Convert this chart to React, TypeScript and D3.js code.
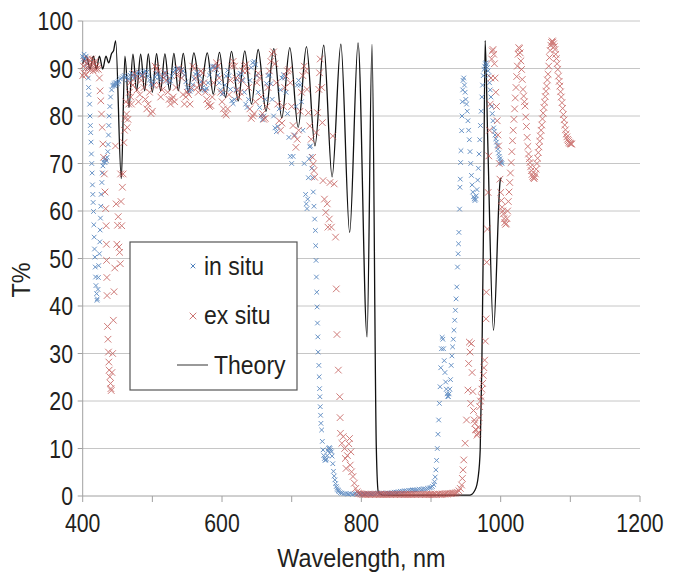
import React from "react";
import * as d3 from "d3";

type Pt = [number, number];

const theory: Pt[] = [
  [400, 91], [405.5, 92.6], [410.5, 89.9], [415.3, 92.6], [419.6, 89.9], [424, 92.6], [428.7, 89.9], [433.4, 92.6],
  [437.3, 91.2], [441.6, 93.2], [444.4, 93.8], [447.3, 95.8], [455.4, 66.8], [460.6, 92.6], [466.4, 81.8], [472.1, 93],
  [477.4, 85.3], [483.2, 93], [488.9, 85.3], [494.2, 93.1], [499.9, 85], [506.1, 93.1], [511.8, 85.3], [518, 93.1],
  [524.7, 85.3], [530.9, 93.2], [537.2, 85.3], [544.4, 93.2], [551.5, 85], [559.6, 93.3], [569.2, 85.3], [578.8, 93.3],
  [587.4, 84.6], [596.4, 93.4], [605, 83.9], [613.6, 93.6], [623.2, 83.2], [632.7, 93.7], [642.3, 82.5], [651.9, 94],
  [663.1, 81], [674.3, 94.2], [685.8, 79.6], [697.3, 94.4], [709.3, 77.6], [721.2, 94.6], [733.4, 73.7], [746, 94.9],
  [758, 67.2], [770.6, 95.1], [783.2, 55.5], [795.3, 95.4], [808.2, 33.5], [815.3, 95.1], [821.5, 10], [824.4, 0.8],
  [830, 0.2], [956, 0.2], [963.4, 1.3], [967.7, 4], [970.6, 9.7], [973, 28], [975.3, 56], [977.7, 95.9], [981.4, 75],
  [989.7, 34.9], [999.3, 66.4], [1000.7, 67],
];

const inSitu: Pt[] = [
  [400, 92.5], [401, 92], [402, 93], [403, 92.2], [404, 91.8], [405, 92.6], [406, 91], [407, 90], [408, 88], [408.5, 86],
  [409, 84.5], [410, 82.5], [410.5, 80], [411, 78], [411.5, 76.5], [412, 74.5], [412.5, 72], [413, 70], [413.5, 68],
  [414, 65.5], [414.5, 63.5], [415, 61.8], [415.5, 59.9], [416, 57.1], [416.5, 54.5], [417, 52], [417.5, 50.3], [418, 48.2],
  [418.5, 46.1], [419, 44.3], [420, 42.6], [420.5, 41.2], [421, 41.5], [422, 43.5], [422.5, 46], [423, 48.5], [424, 51],
  [424.5, 53.5], [425, 56], [425.5, 58.5], [426, 61], [426.5, 63.5], [427.5, 66], [428, 68], [429, 69.5], [430, 70.3],
  [431, 70.8], [432, 70.2], [433, 71], [434, 70.6], [435, 71.3], [436, 72.5], [436.5, 74], [437, 76], [437.5, 78], [438, 80],
  [439, 82], [440, 84], [441.5, 85.5], [443, 86.3], [444, 86.5], [445, 86.8], [446, 86.4], [447, 87], [448, 86.6], [449, 87],
  [450, 86.8], [451, 87.2], [452, 87.4], [454, 87.8], [456, 88], [458, 88.3], [460, 88.5], [462, 88.2], [464, 87.6],
  [466, 87.8], [468, 88.6], [470, 89], [472, 88.6], [474, 88], [476, 88.4], [478, 89], [480, 89.3], [482, 89], [484, 88.4],
  [486, 88.7], [488, 89.2], [490, 89.5], [492, 89.2], [494, 88.4], [496, 87.6], [498, 86.8], [500, 86.5], [502, 87.2],
  [504, 88.2], [506, 89], [508, 88.9], [510, 88.2], [512, 87.5], [514, 87.8], [516, 88.6], [518, 89.2], [520, 88.5],
  [522, 87.4], [524, 87], [526, 87.4], [528, 88.4], [530, 89.2], [532, 89.6], [534, 89.9], [536, 90], [538, 89.8],
  [540, 89.5], [542, 89.8], [544, 89.5], [546, 88.6], [548, 87.2], [550, 86], [552, 85.3], [554, 85.2], [556, 85.6],
  [558, 86.6], [560, 87.8], [562, 88.8], [564, 89.2], [566, 89], [568, 88.4], [570, 87.2], [572, 86], [574, 85.5],
  [576, 85.4], [578, 85.8], [580, 87], [582, 88.6], [584, 89.8], [586, 90.4], [588, 90.5], [590, 90.4], [592, 89.8],
  [594, 88.6], [596, 87], [598, 85.5], [600, 84.6], [602, 84.8], [604, 86.5], [606, 88.4], [608, 89.6], [610, 88.5],
  [612, 85.6], [614, 83.2], [616, 82.6], [618, 83.5], [620, 85.5], [622, 87.6], [624, 88.6], [626, 89], [628, 88.8],
  [630, 87.5], [632, 85], [634, 82.5], [636, 81.8], [638, 83.5], [640, 87.5], [642, 90.2], [644, 91.2], [646, 91.5],
  [648, 90.8], [650, 88.5], [652, 85], [654, 81.8], [656, 80], [658, 79.2], [660, 80], [662, 83.5], [664, 86.8],
  [666, 88.5], [668, 88.6], [670, 86.8], [672, 83.5], [674, 80], [676, 77.5], [678, 76.7], [680, 77.8], [682, 81.5],
  [684, 85.5], [686, 88], [688, 88.7], [690, 88], [692, 85], [694, 80.5], [696, 75.5], [698, 71.5], [700, 70], [702, 71.5],
  [704, 76], [706, 82], [708, 86.5], [710, 87.5], [712, 86.5], [714, 83], [716, 77], [718, 70], [720, 63.5], [721, 61.5],
  [722, 60.5], [723, 62.5], [724, 67], [725, 71], [726, 73.5], [727, 73.7], [728, 71.5], [729, 69], [730, 67], [731, 64],
  [732, 61], [733, 58.3], [734, 55.9], [734.5, 52.7], [735, 49.6], [735.5, 46.1], [736, 42.9], [736.5, 39.8], [737, 36.4],
  [737.5, 33.5], [738, 30.3], [739, 27.5], [739.5, 25.1], [740, 22.6], [740.5, 20.9], [741, 18.8], [741.5, 17], [742, 15.3],
  [743, 13.9], [744, 11.5], [745, 9.7], [746, 8.5], [747, 7.9], [748, 7.5], [749, 7.6], [750, 7.8], [751, 8.5], [752, 9.5],
  [753, 10], [754, 10.2], [755, 10], [756, 9.6], [757, 9.3], [758, 8.4], [759, 6.8], [760, 5.2], [761, 4.2], [762, 3.4],
  [763, 2.6], [764, 2], [765, 1.6], [766, 1.3], [767, 1.1], [768, 0.9], [770, 0.7], [772, 0.6], [775, 0.5], [778, 0.5],
  [781, 0.4], [784, 0.5], [787, 0.4], [790, 0.5], [793, 0.4], [796, 0.5], [799, 0.4], [802, 0.5], [805, 0.4], [808, 0.5],
  [811, 0.5], [814, 0.4], [817, 0.5], [820, 0.5], [823, 0.6], [826, 0.5], [829, 0.6], [832, 0.5], [835, 0.6], [838, 0.6],
  [841, 0.6], [844, 0.7], [847, 0.8], [850, 0.8], [853, 0.9], [856, 1], [859, 1], [862, 1.1], [865, 1.1], [868, 1.2],
  [871, 1.2], [874, 1.3], [877, 1.3], [880, 1.3], [883, 1.4], [886, 1.4], [889, 1.5], [892, 1.5], [895, 1.6], [898, 1.7],
  [900, 1.8], [902, 2], [904, 2.4], [905, 3], [906, 4], [907, 5.5], [908, 7.5], [909, 10], [910, 13], [911, 16], [912, 19.5],
  [913, 23], [914, 27], [915, 31], [916, 33.4], [917, 33], [918, 31], [919, 28.5], [920, 26], [921, 24], [922, 22.5],
  [923, 21.5], [924, 21], [925, 20.9], [926, 21.5], [927, 22.5], [928, 24.5], [929, 27.5], [930, 29.5], [931, 31.4],
  [932, 33], [933, 34.9], [934, 37], [935, 39.1], [936, 41.5], [937, 44], [938, 48.2], [939, 51], [939.5, 53.1], [940, 55.5],
  [941, 60.4], [941.5, 65], [942, 66.7], [942.5, 70.2], [943, 72.7], [944, 76.9], [944.5, 80], [945, 83], [945.5, 85.5],
  [946, 87.5], [947, 88], [948, 86.5], [949, 85], [950, 83.5], [951, 82.5], [952, 81], [953, 79], [954, 77], [955, 75],
  [956, 72.5], [957, 70], [958, 67.5], [959, 65.5], [960, 64], [961, 63], [962, 62.6], [963, 62.2], [964, 62.5], [965, 63.2],
  [966, 64.5], [967, 66.5], [968, 69], [969, 72], [970, 75], [971, 78], [972, 81], [973, 84], [974, 86.5], [975, 88.5],
  [976, 89.8], [977, 90.5], [978, 91], [979, 91.2], [980, 90.8], [981, 90.2], [982, 89.5], [983, 88.5], [984, 87],
  [985, 85.5], [986, 84], [987, 82], [988, 80.5], [989, 79], [990, 77.5], [991, 76.8], [992, 76], [993, 75.2], [994, 74.5],
  [995, 73.8], [996, 73], [997, 72.2], [998, 71.5], [999, 71], [1000, 70.5], [1001, 70.2], [1002, 70],
];

const exSitu: Pt[] = [
  [400, 88.5], [401, 90.5], [402, 89], [403, 91.5], [404, 90], [405, 88.7], [406, 91], [407, 92], [408, 90.2], [409, 91.8],
  [410, 89.6], [411, 91], [412, 90.4], [413, 92], [414, 91.2], [415, 89.5], [416, 91], [417, 90.2], [418, 91.5], [419, 89.8],
  [420, 90.6], [421, 90], [422.5, 89.8], [424, 88], [425, 85.3], [426, 83.2], [427, 80.4], [428, 77.6], [429, 74.1],
  [430, 71.3], [431, 67.8], [432, 64], [433, 60.5], [433.7, 56.9], [434, 53], [434.3, 49.6], [434.7, 46], [435, 42.2],
  [435.6, 35.7], [436.3, 33], [437, 30.3], [437.5, 28.2], [438, 26.5], [439, 25.1], [440, 23.7], [440.5, 22.6], [441, 22.2],
  [442, 26], [443, 30], [444, 37], [445, 43], [446, 48], [447, 73.7], [448, 61.5], [449, 53], [450, 57], [451, 58.8],
  [452, 52.4], [453, 51.3], [454, 48.9], [454.5, 67.8], [455, 62], [456, 56.9], [457, 65], [458, 67.8], [459, 74.4],
  [460, 77], [461, 79.5], [462, 83], [463, 80.4], [464, 77.6], [465, 79.3], [466, 82.5], [467, 85], [468, 87], [469, 84],
  [470, 82.5], [472, 86.5], [474, 89], [476, 88], [478, 85.5], [480, 83], [482, 84.5], [484, 87.5], [486, 88.5], [488, 86],
  [490, 83.5], [492, 81.5], [494, 82.5], [496, 85], [498, 80.5], [500, 81], [502, 86.5], [504, 90.5], [506, 90],
  [508, 89.4], [510, 86.5], [512, 84], [514, 85.5], [516, 88], [518, 89], [520, 87.5], [522, 85], [524, 83.5], [526, 82.5],
  [528, 83.5], [530, 84], [532, 83], [534, 86], [536, 88.5], [538, 90], [540, 89.5], [542, 88], [544, 84.5], [546, 82.5],
  [548, 84], [550, 85], [552, 84.5], [554, 82.5], [556, 86], [558, 90.5], [560, 90], [562, 88], [564, 86], [566, 85],
  [568, 86.5], [570, 89.5], [572, 89], [574, 87], [576, 85], [578, 83.5], [580, 82.5], [582, 82], [584, 82.2], [586, 84],
  [588, 87], [590, 90], [592, 91.2], [594, 90.5], [596, 88], [598, 85], [600, 83], [602, 81.5], [604, 80.5], [606, 80.2],
  [608, 81.5], [610, 84.5], [612, 87.5], [614, 90.5], [616, 91.5], [618, 90.5], [620, 88], [622, 85.5], [624, 84],
  [626, 85], [628, 87.5], [630, 89.5], [632, 90.5], [634, 90.8], [636, 89.5], [638, 86], [640, 81.5], [642, 79.5],
  [644, 80], [646, 80.5], [648, 83], [650, 87], [652, 89], [654, 88], [656, 84], [658, 80.5], [660, 79.3], [662, 79.5],
  [664, 82], [666, 86], [668, 89.5], [670, 91.5], [672, 93], [674, 93.5], [676, 91], [678, 87], [680, 82.5], [682, 79],
  [684, 77], [686, 78.5], [688, 82], [690, 86], [692, 88.4], [694, 89.5], [696, 89.8], [698, 87], [700, 82], [702, 78],
  [704, 75.8], [706, 73.4], [708, 75.1], [710, 77], [712, 81], [714, 85], [716, 88.5], [718, 90.5], [720, 89.5],
  [722, 85.6], [724, 80.7], [726, 77.9], [728, 75.1], [730, 71.3], [731, 69.9], [732, 68.5], [733, 67.1], [735, 76.5],
  [737, 80.7], [739, 85.6], [740, 89.1], [741, 92], [743, 86], [744, 78.6], [745, 66.4], [747, 62.5], [749, 59.7],
  [751, 61.5], [752, 56.6], [754, 58.3], [755, 66], [757, 56.6], [759, 75.8], [761, 65.7], [763, 54.5], [764, 43.6],
  [765, 34], [767, 26.5], [769, 20.9], [769.5, 16.5], [770, 13.2], [772, 11.1], [774, 12.5], [776, 10], [777, 7.9],
  [778, 5.8], [780, 8.5], [782, 11], [783, 12.1], [784, 6.5], [785, 9.3], [786, 5.1], [788, 4.1], [790, 2.7], [792, 1.6],
  [794, 0.9], [796, 0.6], [798, 0.5], [800, 0.4], [802, 0.3], [804, 0.4], [806, 0.3], [808, 0.3], [810, 0.4], [812, 0.3],
  [814, 0.3], [816, 0.4], [818, 0.3], [820, 0.3], [822, 0.4], [824, 0.3], [826, 0.3], [828, 0.4], [830, 0.3], [832, 0.3],
  [834, 0.4], [836, 0.3], [838, 0.3], [840, 0.4], [842, 0.3], [844, 0.3], [846, 0.4], [848, 0.3], [850, 0.3], [852, 0.4],
  [854, 0.3], [856, 0.3], [858, 0.4], [860, 0.3], [862, 0.3], [864, 0.4], [866, 0.3], [868, 0.3], [870, 0.4], [872, 0.3],
  [874, 0.3], [876, 0.4], [878, 0.3], [880, 0.3], [882, 0.4], [884, 0.3], [886, 0.3], [888, 0.4], [890, 0.3], [892, 0.3],
  [894, 0.4], [896, 0.3], [898, 0.3], [900, 0.4], [902, 0.3], [904, 0.3], [906, 0.4], [908, 0.3], [910, 0.4], [912, 0.4],
  [914, 0.3], [916, 0.4], [918, 0.4], [920, 0.4], [922, 0.5], [924, 0.4], [926, 0.5], [928, 0.5], [930, 0.5], [932, 0.6],
  [934, 0.6], [936, 0.7], [938, 0.8], [940, 1.1], [942, 1.6], [944, 2.3], [945, 3.7], [946, 5.5], [947, 7.6], [949, 11.1],
  [951, 16], [953, 22.3], [954, 27.9], [955, 32.4], [956, 30.3], [957, 19.5], [958, 32.1], [959, 26], [960, 22], [961, 18],
  [962, 16], [963, 15.3], [964, 14], [965, 13.9], [966, 12.8], [967, 13.2], [968, 14.5], [969, 16.5], [970, 18.8],
  [971, 20], [972, 20.9], [973, 22.5], [974, 23.7], [975, 25.4], [976, 27], [977, 28.6], [978, 32.6], [979, 37.3],
  [979.5, 42.9], [980, 49.2], [981, 56.2], [982, 63.9], [983, 71.6], [984, 77], [985, 82.5], [986, 88], [987, 92],
  [988, 93.7], [989, 94], [990, 93], [991, 91], [992, 88], [993, 85], [994, 82], [995, 79], [996, 76], [997, 73.7],
  [998, 70], [999, 66.7], [1000, 63.9], [1001, 62.2], [1002, 60.8], [1003, 60], [1004, 59.4], [1005, 58.4], [1006, 57.6],
  [1007, 57.2], [1008, 57.3], [1009, 58.4], [1010, 60], [1011, 62], [1012, 64], [1013, 66], [1014, 68], [1015, 70.2],
  [1016, 72.5], [1017, 74.8], [1018, 77], [1019, 79.3], [1020, 81.5], [1021, 83.8], [1022, 86], [1023, 88.3], [1024, 90.5],
  [1025, 93], [1026, 94.4], [1027, 94.2], [1028, 93.3], [1029, 91.6], [1030, 89.8], [1031, 87.7], [1032, 85.6], [1033, 84.2],
  [1034, 83], [1035, 82.1], [1036, 79.8], [1037, 77.8], [1038, 75.5], [1039, 73.6], [1040, 72], [1041, 71], [1042, 70.2],
  [1043, 69.3], [1044, 68.5], [1045, 67.7], [1046, 67.3], [1047, 67], [1048, 66.8], [1049, 67.2], [1050, 67.8],
  [1051, 68.8], [1052, 70], [1053, 71.1], [1054, 72.3], [1055, 73.5], [1056, 74.7], [1057, 75.8], [1058, 77], [1059, 78.1],
  [1060, 79.4], [1061, 80.6], [1062, 81.8], [1063, 82.9], [1064, 84.1], [1065, 85.2], [1066, 86.3], [1067, 87.6],
  [1068, 88.8], [1069, 90.5], [1070, 92.3], [1071, 93.8], [1072, 94.9], [1073, 95.5], [1074, 95.8], [1075, 95.6],
  [1076, 95.2], [1077, 94.6], [1078, 94], [1079, 93], [1080, 92.1], [1081, 91], [1082, 89.8], [1083, 88.4], [1084, 87.3],
  [1085, 86.3], [1086, 85.1], [1087, 84], [1088, 82.8], [1089, 81.6], [1090, 80.3], [1091, 79.2], [1092, 78.1], [1093, 77.1],
  [1094, 76.2], [1095, 75.6], [1096, 75.1], [1097, 74.8], [1098, 74.5], [1099, 74.3], [1100, 74.2], [1101, 74.1],
  [1102, 74.1],
];

const xTicks = [400, 600, 800, 1000, 1200];
const xMinorTicks = [400, 500, 600, 700, 800, 900, 1000, 1100, 1200];
const yTicks = [0, 10, 20, 30, 40, 50, 60, 70, 80, 90, 100];
const legendLabels = ["in situ", "ex situ", "Theory"];

const FONT = "'Liberation Sans', Arial, 'DejaVu Sans', sans-serif";
const BLUE = "#4F81BD";
const RED = "#C0504D";
const INK = "#231f20";

function cross(s: number) {
  return `M${-s},${-s}L${s},${s}M${-s},${s}L${s},${-s}`;
}

function Label(props: {
  x: number;
  y: number;
  size: number;
  sx: number;
  anchor?: "start" | "middle" | "end";
  rotate?: number;
  children: React.ReactNode;
}) {
  const { x, y, size, sx, anchor = "start", rotate, children } = props;
  const tr = `translate(${x},${y})${rotate ? ` rotate(${rotate})` : ""} scale(${sx},1)`;
  return (
    <g transform={tr}>
      <text x={0} y={0} fontSize={size} textAnchor={anchor} fill={INK}>
        {children}
      </text>
    </g>
  );
}

export default function App() {
  const W = 675;
  const H = 576;
  const x = d3.scaleLinear().domain([400, 1200]).range([82.7, 640]);
  const y = d3.scaleLinear().domain([0, 100]).range([496, 21]);
  const line = d3
    .line<Pt>()
    .x((d) => x(d[0]))
    .y((d) => y(d[1]))
    .curve(d3.curveMonotoneX);

  const blueMark = cross(2.3);
  const redMark = cross(3.3);

  return (
    <svg
      width={W}
      height={H}
      viewBox={`0 0 ${W} ${H}`}
      style={{ position: "absolute", left: 0, top: 0, background: "#fff" }}
      fontFamily={FONT}
    >
      <rect x={0} y={0} width={W} height={H} fill="#fff" />
      {yTicks.filter((t) => t > 0).map((t) => (
        <line key={`g${t}`} x1={x(400)} x2={x(1200)} y1={y(t)} y2={y(t)} stroke="#c6c6c6" strokeWidth={1} />
      ))}
      <line x1={x(400)} x2={x(400)} y1={y(0)} y2={y(100)} stroke="#a0a0a0" strokeWidth={1} />
      <line x1={x(400)} x2={x(1200)} y1={y(0)} y2={y(0)} stroke="#a0a0a0" strokeWidth={1} />
      {yTicks.map((t) => (
        <line key={`yt${t}`} x1={x(400) - 5} x2={x(400)} y1={y(t)} y2={y(t)} stroke="#a0a0a0" strokeWidth={1} />
      ))}
      {xMinorTicks.map((t) => (
        <line key={`xt${t}`} x1={x(t)} x2={x(t)} y1={y(0)} y2={y(0) + 6} stroke="#a0a0a0" strokeWidth={1} />
      ))}
      {yTicks.map((t) => (
        <Label key={`yl${t}`} x={73} y={y(t) + 9} size={25} sx={0.85} anchor="end">
          {t}
        </Label>
      ))}
      {xTicks.map((t) => (
        <Label key={`xl${t}`} x={x(t)} y={532} size={25} sx={0.85} anchor="middle">
          {t}
        </Label>
      ))}
      <Label x={(x(400) + x(1200)) / 2} y={567} size={26} sx={0.9} anchor="middle">
        Wavelength, nm
      </Label>
      <Label x={30} y={280} size={26} sx={0.9} anchor="middle" rotate={-90}>
        T%
      </Label>

      <path d={line(theory) || ""} fill="none" stroke="#111" strokeWidth={1.3} />

      <g stroke={BLUE} strokeWidth={1} opacity={0.85}>
        {inSitu.map((d, i) => (
          <path key={`b${i}`} d={blueMark} transform={`translate(${x(d[0])},${y(d[1])})`} fill="none" />
        ))}
      </g>
      <g stroke={RED} strokeWidth={1} opacity={0.75}>
        {exSitu.map((d, i) => (
          <path key={`r${i}`} d={redMark} transform={`translate(${x(d[0])},${y(d[1])})`} fill="none" />
        ))}
      </g>

      <rect x={130} y={242} width={167} height={148} fill="#fff" stroke="#555" strokeWidth={1.2} />
      <path d={cross(2.3)} transform="translate(193,266)" stroke={BLUE} strokeWidth={1} fill="none" />
      <Label x={204} y={275} size={25} sx={0.92}>{legendLabels[0]}</Label>
      <path d={cross(3.3)} transform="translate(193,316)" stroke={RED} strokeWidth={1} fill="none" opacity={0.8} />
      <Label x={204} y={324} size={25} sx={0.92}>{legendLabels[1]}</Label>
      <line x1={177} x2={208} y1={365} y2={365} stroke="#555" strokeWidth={1.2} />
      <Label x={214} y={374} size={25} sx={0.92}>{legendLabels[2]}</Label>
    </svg>
  );
}
